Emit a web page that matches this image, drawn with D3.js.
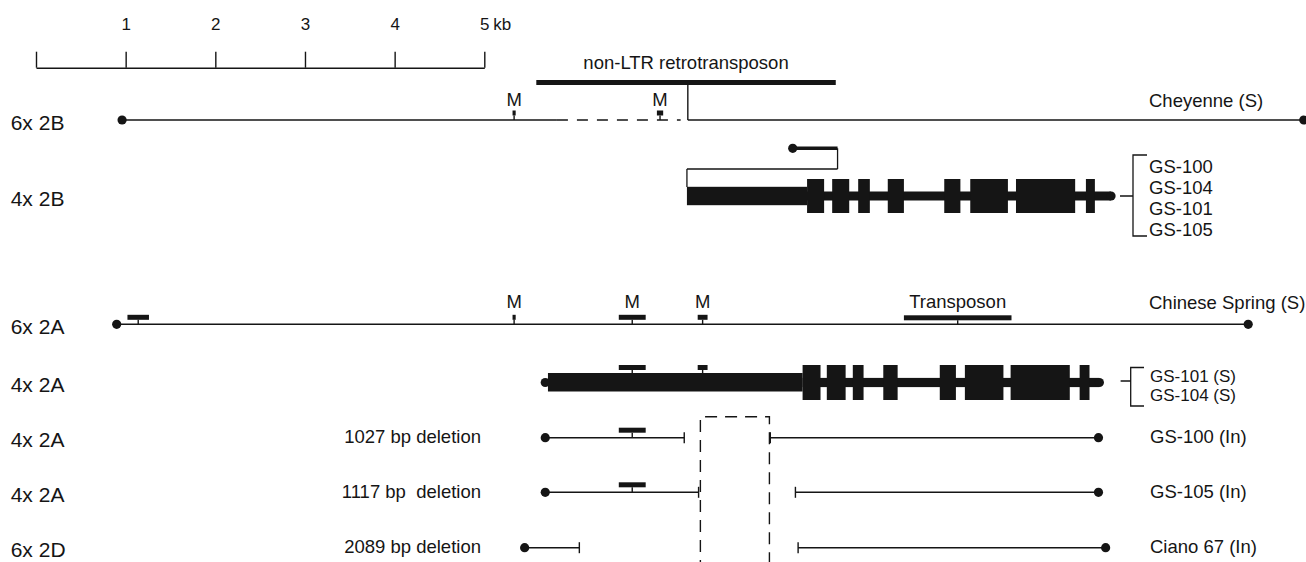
<!DOCTYPE html>
<html>
<head>
<meta charset="utf-8">
<script src="https://cdn.jsdelivr.net/npm/d3@7"></script>
<style>
body { margin: 0; background: #fff; }
text { font-family: "Liberation Sans", Arial, Helvetica, sans-serif; fill: #151515; }
</style>
</head>
<body>
<div id="chart"></div>
<script>
// all positions in kb along the gene
var kbTicks = [0, 1, 2, 3, 4, 5];
var rowNames = ["6x 2B", "4x 2B", "6x 2A", "4x 2A", "4x 2A", "4x 2A", "6x 2D"];

// 6x 2B, Cheyenne
var cheyenneSpan = [0.96, 14.14];
var cheyenneDashed = [5.81, 7.19];
var retroInsert = 7.27;
var retroSpan = [5.58, 8.92];
var cheyenneM = [[5.315, 5.35], [6.925, 6.995]];

// 4x 2B gene model
var hook2B = [8.44, 8.94];
var utr2B = [7.26, 8.60];
var exons2B = [[8.60, 8.79], [8.88, 9.07], [9.17, 9.30], [9.50, 9.68], [10.13, 10.31],
               [10.42, 10.84], [10.93, 11.59], [11.71, 11.81]];
var end2B = 11.99;
var lines2B = ["GS-100", "GS-104", "GS-101", "GS-105"];

// 6x 2A, Chinese Spring
var csSpan = [0.90, 13.52];
var csMarks = [[1.02, 1.26, ""], [5.315, 5.35, "M"], [6.50, 6.80, "M"], [7.38, 7.49, "M"]];
var transposonSpan = [9.68, 10.88];

// 4x 2A gene model
var utr2A = [5.71, 8.55];
var exons2A = [[8.55, 8.75], [8.82, 9.03], [9.11, 9.23], [9.45, 9.61], [10.08, 10.26],
               [10.36, 10.79], [10.87, 11.53], [11.64, 11.75]];
var start2A = 5.68;
var end2A = 11.86;
var marks2A = [[6.50, 6.80], [7.38, 7.49]];
var lines2A = ["GS-101 (S)", "GS-104 (S)"];

// deletion lines
var delLeft = [[5.68, 7.23], [5.68, 7.39], [5.45, 6.06]];
var delRight = [[8.19, 11.85], [8.47, 11.85], [8.50, 11.93]];
var delMarks = [[6.50, 6.80], [6.50, 6.80], null];
var delNames = ["1027 bp deletion", "1117 bp  deletion", "2089 bp deletion"];
var delLines = ["GS-100 (In)", "GS-105 (In)", "Ciano 67 (In)"];
var delBox = [7.41, 8.18];

var W = 1306, H = 562;
var ink = "#151515";
var rowY = [120, 196, 324.3, 382.5, 437.7, 492.3, 547.7];

var svg = d3.select("#chart").append("svg")
  .attr("width", W)
  .attr("height", H);
svg.append("rect").attr("width", W).attr("height", H).attr("fill", "#fff");

var x = d3.scaleLinear()
  .domain([0, 5])
  .range([36, 484.3]);

function hline(a, b, y, w) {
  return svg.append("line")
    .attr("x1", x(a)).attr("x2", x(b)).attr("y1", y).attr("y2", y)
    .attr("stroke", ink).attr("stroke-width", w || 1.4);
}
function vline(k, y1, y2, w) {
  return svg.append("line")
    .attr("x1", x(k)).attr("x2", x(k)).attr("y1", y1).attr("y2", y2)
    .attr("stroke", ink).attr("stroke-width", w || 1.4);
}
function dot(k, y) {
  svg.append("circle").attr("cx", x(k)).attr("cy", y).attr("r", 4.6).attr("fill", ink);
}
function box(a, b, top, h) {
  svg.append("rect")
    .attr("x", x(a)).attr("y", top)
    .attr("width", x(b) - x(a)).attr("height", h)
    .attr("fill", ink);
}
function label(t, px, y, size, anchor) {
  return svg.append("text")
    .attr("x", px).attr("y", y)
    .attr("font-size", size)
    .attr("text-anchor", anchor || "start")
    .attr("xml:space", "preserve")
    .style("white-space", "pre")
    .text(t);
}
// marker bar sitting above a line, joined by a short tick
function marker(a, b, lineY, top) {
  box(a, b, top, 5);
  vline((a + b) / 2, top + 5, lineY, 1.4);
}

// scale bar
var axis = svg.append("g")
  .attr("transform", "translate(0,67.7)")
  .call(d3.axisTop(x)
    .tickValues(kbTicks)
    .tickSize(16)
    .tickSizeOuter(0)
    .tickPadding(21.5)
    .tickFormat(function(d) { return d === 0 ? "" : d; }));
axis.select(".domain").attr("stroke", ink).attr("stroke-width", 1.4);
axis.selectAll(".tick line").attr("stroke", ink).attr("stroke-width", 1.4);
axis.selectAll("text").attr("font-size", 17).attr("fill", ink);
label("kb", x(5) + 9, 30, 17);

// row names
rowNames.forEach(function(n, i) {
  label(n, 10.7, rowY[i] + 9.5, 21);
});

// ---- 6x 2B Cheyenne
var y0 = rowY[0];
hline(cheyenneSpan[0], cheyenneDashed[0], y0);
hline(cheyenneDashed[0], cheyenneDashed[1], y0).attr("stroke-dasharray", "11,9");
hline(retroInsert, cheyenneSpan[1], y0);
dot(cheyenneSpan[0], y0);
dot(cheyenneSpan[1], y0);
box(retroSpan[0], retroSpan[1], 80, 5);
vline(retroInsert, 84, y0);
label("non-LTR retrotransposon", x((retroSpan[0] + retroSpan[1]) / 2), 69.3, 18.5, "middle");
cheyenneM.forEach(function(m) {
  marker(m[0], m[1], y0, y0 - 9.5);
  label("M", x((m[0] + m[1]) / 2), 106, 18.5, "middle");
});
label("Cheyenne (S)", 1149, 106.7, 18.5);

// ---- 4x 2B gene model
var y1 = rowY[1];
hline(hook2B[0], hook2B[1], 148.3, 3.6);
dot(hook2B[0], 148.3);
vline(hook2B[1], 148.3, 169, 1.3);
hline(utr2B[0], hook2B[1], 169, 1.3);
vline(utr2B[0], 169, y1 - 9, 1.3);
box(exons2B[0][0], end2B, y1 - 4.5, 9);
box(utr2B[0], utr2B[1], y1 - 9.2, 18.4);
exons2B.forEach(function(e) { box(e[0], e[1], y1 - 17, 34); });
dot(end2B, y1);

// bracket with the 4x lines
svg.append("path")
  .attr("d", "M1147,155H1133V236H1147M1120," + y1 + "H1133")
  .attr("fill", "none").attr("stroke", ink).attr("stroke-width", 1.3);
lines2B.forEach(function(t, i) {
  label(t, 1149, 172.7 + i * 21, 18.5);
});

// ---- 6x 2A Chinese Spring
var y2 = rowY[2];
hline(csSpan[0], csSpan[1], y2);
dot(csSpan[0], y2);
dot(csSpan[1], y2);
csMarks.forEach(function(m) {
  marker(m[0], m[1], y2, y2 - 9.5);
  if (m[2]) label(m[2], x((m[0] + m[1]) / 2), 308.4, 18.5, "middle");
});
marker(transposonSpan[0], transposonSpan[1], y2, y2 - 9);
label("Transposon", x((transposonSpan[0] + transposonSpan[1]) / 2), 308.4, 18.5, "middle");
label("Chinese Spring (S)", 1149, 309.3, 18.5);

// ---- 4x 2A gene model
var y3 = rowY[3];
box(exons2A[0][0], end2A, y3 - 4.6, 9.2);
box(utr2A[0], utr2A[1], y3 - 9.5, 18.5);
exons2A.forEach(function(e) { box(e[0], e[1], y3 - 17.5, 35); });
dot(start2A, y3);
dot(end2A, y3);
marks2A.forEach(function(m) {
  marker(m[0], m[1], y3 - 9.5, y3 - 17.5);
});
svg.append("path")
  .attr("d", "M1144,367.5H1130.7V406H1144M1120.6,381H1130.7")
  .attr("fill", "none").attr("stroke", ink).attr("stroke-width", 1.3);
lines2A.forEach(function(t, i) {
  label(t, 1150, 381.5 + i * 19.5, 17);
});

// ---- deletion lines
delLeft.forEach(function(s, i) {
  var y = rowY[4 + i];
  var r = delRight[i];
  hline(s[0], s[1], y);
  vline(s[1], y - 5.5, y + 5.5);
  dot(s[0], y);
  hline(r[0], r[1], y);
  vline(r[0], y - 5.5, y + 5.5);
  dot(r[1], y);
  if (delMarks[i]) marker(delMarks[i][0], delMarks[i][1], y, y - 10);
  label(delNames[i], 481, y + 5.6, 18.5, "end");
  label(delLines[i], 1150, y + 5.6, 18.5);
});

// dashed outline of the deleted region
svg.append("path")
  .attr("d", "M" + x(delBox[0]) + "," + (H + 10) + "V416.7H" + x(delBox[1]) + "V" + (H + 10))
  .attr("fill", "none")
  .attr("stroke", ink)
  .attr("stroke-width", 1.4)
  .attr("stroke-dasharray", "12,8");
</script>
</body>
</html>
